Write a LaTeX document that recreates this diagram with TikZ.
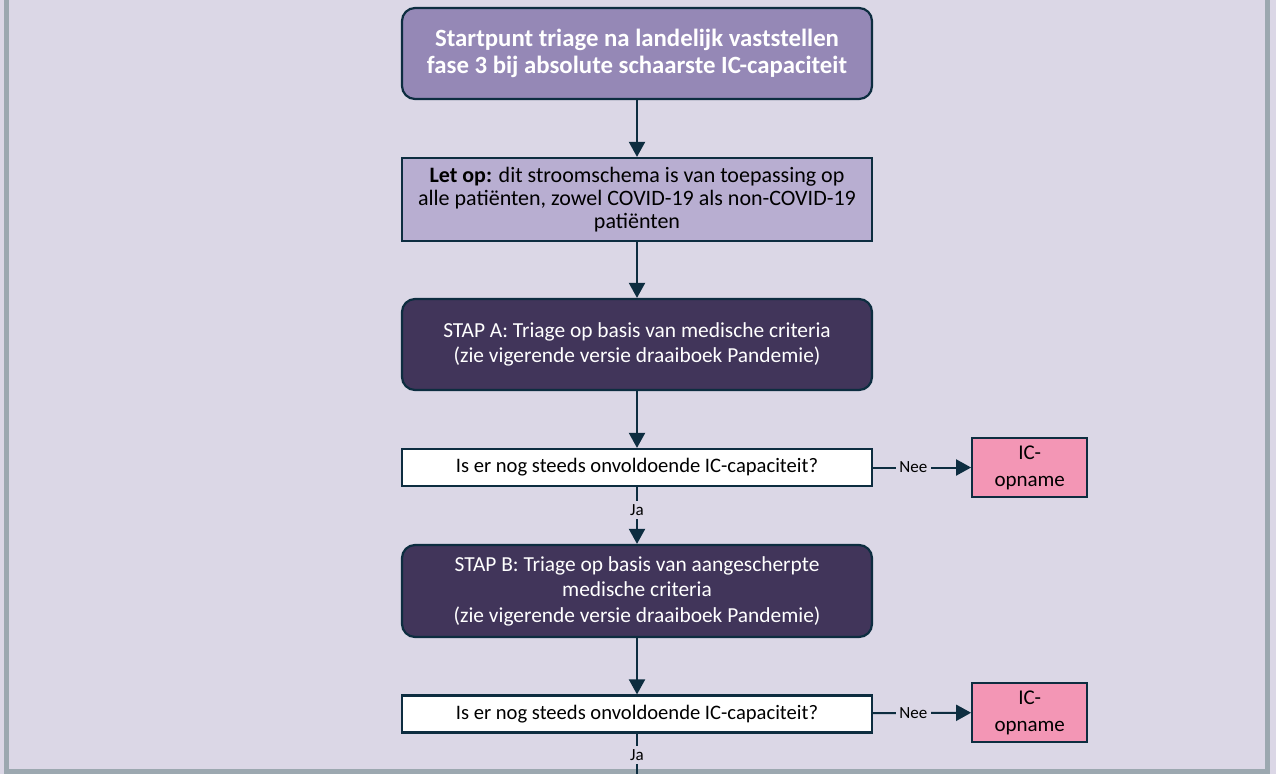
\documentclass[tikz,border=0pt]{standalone}
\usepackage{fontspec}
\setmainfont{Carlito}
\usetikzlibrary{arrows.meta, positioning}

\definecolor{achtergrond}{HTML}{DBD7E6}
\definecolor{rand}{HTML}{9CA8B0}
\definecolor{lijn}{HTML}{0D2D40}
\definecolor{paars}{HTML}{9588B6}
\definecolor{lichtpaars}{HTML}{B8AED1}
\definecolor{donkerpaars}{HTML}{41355A}
\definecolor{roze}{HTML}{F396B5}

\begin{document}
\begin{tikzpicture}[x=1pt, y=-1pt, >={Triangle[length=15pt,width=16pt]},
  box/.style={draw=lijn, line width=2.2pt, align=center, minimum width=470pt, inner sep=0pt},
  startbox/.style={box, fill=paars, rounded corners=13pt, minimum height=91pt,
    text=white, font=\fontsize{24.8}{27.5}\selectfont\bfseries},
  notebox/.style={box, fill=lichtpaars, minimum height=83pt, font=\fontsize{22}{23}\selectfont},
  stapbox/.style={box, fill=donkerpaars, rounded corners=13pt, minimum height=91pt,
    text=white, font=\fontsize{21.4}{25.5}\selectfont},
  vraag/.style={box, fill=white, minimum height=37pt, font=\fontsize{20.6}{23}\selectfont},
  opname/.style={draw=lijn, line width=2.2pt, fill=roze, align=center, inner sep=0pt,
    minimum width=115pt, minimum height=59pt, font=\fontsize{21}{27}\selectfont},
  pijl/.style={->, draw=lijn, line width=2pt},
  keuze/.style={fill=achtergrond, inner sep=3.5pt, font=\fontsize{17}{19}\selectfont}]

  % --- Canvas and frame (top edge falls outside the picture)
  \useasboundingbox (0,0) rectangle (1276,774);
  \fill[achtergrond] (0,0) rectangle (1276,774);
  \draw[rand, line width=5pt] (6.5,-10) -- (6.5,771.5) -- (1267.5,771.5) -- (1267.5,-10);

  % --- Main column
  \node[startbox] (start) at (637,53.5)
    {Startpunt triage na landelijk vaststellen\\fase 3 bij absolute schaarste IC-capaciteit};
  \node[notebox] (letop) at (637,199.5)
    {\textbf{Let op:} dit stroomschema is van toepassing op\\
     alle patiënten, zowel COVID-19 als non-COVID-19\\patiënten};
  \node[stapbox] (stapA) at (637,344.5)
    {STAP A: Triage op basis van medische criteria\\(zie vigerende versie draaiboek Pandemie)};
  \node[vraag] (vraag1) at (637,467.5) {Is er nog steeds onvoldoende IC-capaciteit?};
  \node[stapbox, minimum height=92pt] (stapB) at (637,591)
    {STAP B: Triage op basis van aangescherpte\\medische criteria\\(zie vigerende versie draaiboek Pandemie)};
  \node[vraag] (vraag2) at (637,714) {Is er nog steeds onvoldoende IC-capaciteit?};

  % --- Side exits
  \node[opname, right=98pt of vraag1] (ic1) {IC-\\opname};
  \node[opname, right=98pt of vraag2, yshift=1.5pt] (ic2) {IC-\\opname};

  % --- Connectors
  \draw[pijl] (start) -- (letop);
  \draw[pijl] (letop) -- (stapA);
  \draw[pijl] (stapA) -- (vraag1);
  \draw[pijl] (vraag1) -- node[keuze, pos=0.41] {Nee} (ic1);
  \draw[pijl] (vraag1) -- node[keuze, pos=0.41] {Ja} (stapB);
  \draw[pijl] (stapB) -- (vraag2);
  \draw[pijl] (vraag2) -- node[keuze, pos=0.41] {Nee} (ic2);

  % --- Continues below the visible part
  \coordinate (verder) at (637,774);
  \draw[draw=lijn, line width=2pt] (vraag2) -- node[keuze, pos=0.52] {Ja} (verder);
\end{tikzpicture}
\end{document}
